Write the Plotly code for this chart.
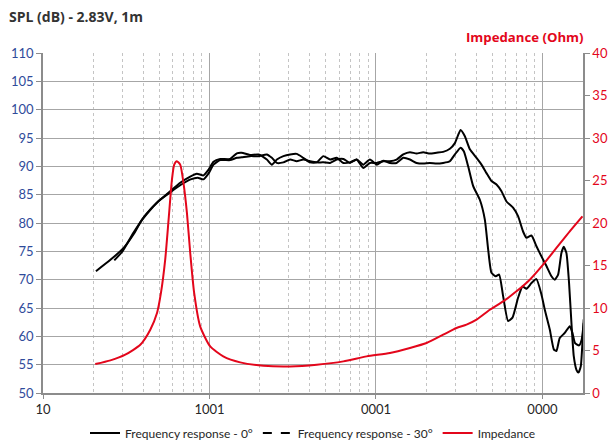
import plotly.graph_objects as go

# ---- data ----
freq_0deg = [20.8, 25.4, 30.5, 35.0, 39.3, 44.1, 50.6, 58.1, 66.7, 76.6, 84.0, 92.0, 98.6, 105.7, 116, 133, 146, 156,
             175, 197, 221, 237, 254, 278, 305, 334, 366, 402, 441, 483, 530, 581, 637, 698, 766, 839, 920, 1010, 1107,
             1213, 1330, 1458, 1600, 1754, 1922, 2108, 2312, 2533, 2780, 2979, 3222, 3420, 3664, 4018, 4305, 4613,
             4943, 5297, 5675, 6081, 6660, 7138, 7648, 8016, 8590, 9204, 9862, 10568, 11324, 11860, 12420, 13000,
             13430, 13930, 14450, 14930, 15420, 16000, 16440, 16990, 17380, 17700]
spl_0deg = [71.5, 73.5, 75.6, 78.0, 80.6, 82.4, 84.1, 85.6, 87.1, 88.2, 88.7, 88.4, 89.4, 90.8, 91.3, 91.3, 92.3, 92.4,
            92.0, 92.1, 91.2, 90.3, 91.2, 91.8, 92.1, 92.2, 91.5, 90.7, 90.7, 91.8, 91.2, 91.5, 90.6, 90.7, 91.2, 89.7,
            90.6, 90.6, 90.9, 90.9, 91.2, 92.1, 92.5, 92.25, 92.5, 92.25, 92.4, 92.55, 93.1, 94.1, 96.4, 95.3, 93.0,
            91.5, 90.3, 88.8, 87.4, 86.8, 85.6, 83.8, 82.7, 81.2, 78.5, 77.4, 77.8, 75.9, 74.1, 72.4, 70.6, 70.0,
            70.9, 74.7, 75.8, 74.7, 69.4, 62.4, 56.5, 54.1, 53.6, 54.7, 58.8, 63.0]

freq_30deg = [26.8, 30, 35, 40, 45, 50, 58, 67, 77, 85, 92, 99, 105.7, 116, 133, 146, 156, 175, 197, 221, 237, 254,
              278, 305, 334, 366, 402, 441, 483, 530, 581, 637, 698, 766, 839, 920, 1010, 1107, 1213, 1330, 1458,
              1600, 1754, 1922, 2108, 2312, 2533, 2780, 2979, 3222, 3370, 3580, 3837, 4207, 4508, 4721, 4943, 5250,
              5495, 5805, 6220, 6607, 7138, 7586, 8016, 8590, 9204, 9862, 10330, 11070, 11700, 12130, 12700, 13620,
              14590, 15140, 15700, 16600, 17200, 17700]
spl_30deg = [73.4, 75.0, 78.3, 80.8, 82.6, 84.0, 85.4, 86.7, 87.7, 88.0, 87.7, 88.8, 90.3, 91.1, 91.1, 91.5, 91.6,
             91.8, 91.8, 92.1, 91.5, 90.6, 90.7, 91.2, 90.9, 91.2, 90.9, 90.7, 90.7, 90.6, 91.2, 91.3, 90.6, 91.2,
             90.3, 91.2, 90.3, 91.0, 90.6, 90.6, 91.5, 91.2, 90.6, 90.5, 90.6, 90.5, 90.6, 90.9, 92.1, 93.3, 92.65,
             90.0, 86.5, 84.1, 80.6, 75.3, 71.2, 70.6, 70.9, 67.1, 62.7, 63.3, 66.8, 68.8, 68.4, 69.4, 70.1, 67.4,
             64.7, 61.2, 57.7, 57.4, 59.7, 60.6, 61.8, 60.6, 58.8, 58.4, 59.4, 62.4]

freq_imp = [20.6, 25.4, 31.2, 38.4, 44.1, 48.4, 51.1, 54.2, 56.8, 59.5, 61.4, 63.7, 66.7, 69.8, 73.2, 76.6, 80.9,
            87.9, 101, 121, 153, 211, 305, 441, 637, 879, 1213, 1600, 2014, 2533, 3048, 3499, 4018, 4831, 5805,
            6982, 8394, 10090, 12130, 14590, 17380]
imp_ohm = [3.41, 3.84, 4.51, 5.68, 7.45, 9.41, 11.77, 15.69, 20.39, 25.1, 26.87, 27.26, 26.87, 24.7, 21.2, 16.5,
           11.77, 7.84, 5.48, 4.31, 3.60, 3.21, 3.13, 3.33, 3.72, 4.31, 4.71, 5.30, 5.88, 6.86, 7.65, 8.04, 8.63,
           9.80, 10.78, 11.96, 13.33, 15.10, 17.06, 19.02, 20.78]

x_tick_vals = [10, 100, 1000, 10000]
x_tick_text = ["10", "1001", "0001", "0000"]

left_title = "SPL (dB) - 2.83V, 1m"
right_title = "Impedance (Ohm)"

BLACK = "#000000"
RED = "#E3061B"
BLUE = "#2F4B9B"
GRID = "#A6A6A6"
FONT = "Lato"

fig = go.Figure()
fig.add_trace(go.Scatter(x=freq_0deg, y=spl_0deg, mode="lines", name="Frequency response - 0°",
                         line=dict(color=BLACK, width=2, shape="spline", smoothing=0.5)))
fig.add_trace(go.Scatter(x=freq_30deg, y=spl_30deg, mode="lines", name="Frequency response - 30°",
                         line=dict(color=BLACK, width=2, shape="spline", smoothing=0.5), showlegend=False))
fig.add_trace(go.Scatter(x=[None], y=[None], mode="lines", name="Frequency response - 30°",
                         line=dict(color=BLACK, width=2, dash="dash")))
fig.add_trace(go.Scatter(x=freq_imp, y=imp_ohm, mode="lines", name="Impedance", yaxis="y2",
                         line=dict(color=RED, width=2, shape="spline", smoothing=0.6)))

fig.update_layout(
    width=614, height=441,
    margin=dict(l=43, r=31, t=53, b=48, autoexpand=False),
    paper_bgcolor="white", plot_bgcolor="white",
    font=dict(family=FONT, size=13, color="#262626"),
    xaxis=dict(type="log", range=[1, 4.2436], tickvals=x_tick_vals, ticktext=x_tick_text,
               showgrid=True, gridcolor=GRID, gridwidth=1, automargin=False,
               showline=True, linecolor="#8C8C8C", linewidth=1.5,
               ticks="outside", ticklen=4, tickcolor="#8C8C8C",
               tickfont=dict(size=13, color="#262626"),
               minor=dict(dtick="D1", showgrid=True, gridcolor="#C4C4C4", griddash="dot", gridwidth=1,
                          ticks=""),
               zeroline=False),
    yaxis=dict(range=[50, 110], dtick=5, showgrid=True, gridcolor=GRID, gridwidth=1.3, automargin=False,
               showline=True, linecolor="#8C8C8C", linewidth=1.5,
               ticks="outside", ticklen=5, tickcolor="#8C8C8C",
               tickfont=dict(size=13, color=BLUE), zeroline=False),
    yaxis2=dict(range=[0, 40], dtick=5, overlaying="y", side="right", showgrid=False, automargin=False,
                showline=True, linecolor="#8C8C8C", linewidth=1.5,
                ticks="outside", ticklen=5, tickcolor="#8C8C8C",
                tickfont=dict(size=13, color=RED), zeroline=False),
    legend=dict(orientation="h", x=0.5, xanchor="center", y=-0.118, yanchor="middle",
                font=dict(size=12, color="#262626"), itemwidth=30, bgcolor="rgba(0,0,0,0)"),
    showlegend=True,
    annotations=[
        dict(text="<b>" + left_title + "</b>", xref="paper", yref="paper", x=-0.066, y=1.108,
             xanchor="left", yanchor="middle", showarrow=False,
             font=dict(family="Open Sans", size=14, color="#333333")),
        dict(text="<b>" + right_title + "</b>", xref="paper", yref="paper", x=1.003, y=1.048,
             xanchor="right", yanchor="middle", showarrow=False,
             font=dict(family="Open Sans", size=13.2, color=RED)),
    ],
)

fig.write_html("out.html", config={"displayModeBar": False},
               post_script="document.body.style.margin='0';document.body.style.padding='0';"
                           "document.body.style.overflow='hidden';")
